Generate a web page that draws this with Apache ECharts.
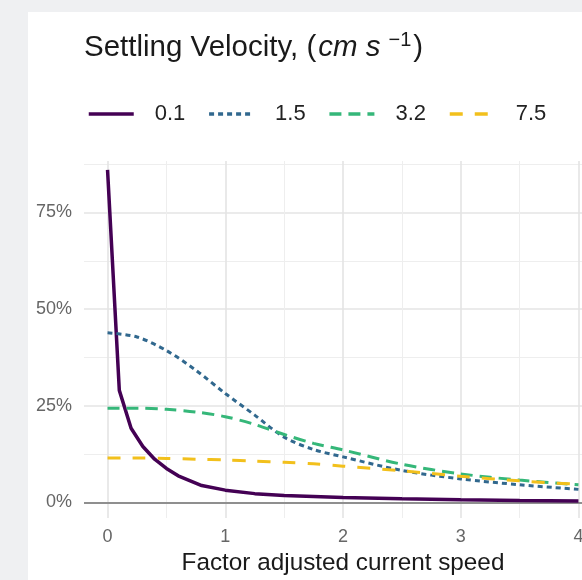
<!DOCTYPE html>
<html>
<head>
<meta charset="utf-8">
<script src="https://cdn.jsdelivr.net/npm/echarts@6/dist/echarts.min.js"></script>
<style>
  html, body { margin: 0; padding: 0; background: #eff0f2; }
  #panel { position: absolute; left: 28px; top: 12px; right: 0; bottom: 0; background: #fff; }
  #chart { position: absolute; left: 0; top: 0; width: 582px; height: 580px; }
</style>
</head>
<body>
<div id="panel"></div>
<div id="chart"></div>
<script>
// settling velocity classes (cm/s)
const classes = ['0.1', '1.5', '3.2', '7.5']

// x = factor adjusted current speed, y = share in %
const speedFine = [0, 0.1, 0.2, 0.3, 0.4, 0.5, 0.6, 0.8, 1.0, 1.25, 1.5, 2.0, 2.5, 3.0, 3.5, 4.0]
const share01 = [86, 29, 19.2, 14.5, 11.2, 8.8, 6.9, 4.4, 3.2, 2.3, 1.8, 1.3, 0.95, 0.7, 0.5, 0.4]

const speed = [0, 0.25, 0.5, 0.75, 1.0, 1.25, 1.5, 1.75, 2.0, 2.5, 3.0, 3.5, 4.0]
const share15 = [43.9, 42.8, 39.3, 34.2, 28.2, 22.6, 16.9, 13.7, 11.8, 8.3, 6.1, 4.6, 3.4]
const share32 = [24.4, 24.4, 24.1, 23.4, 22.2, 20.2, 17.6, 15.3, 13.6, 9.9, 7.4, 5.8, 4.6]
const share75 = [11.5, 11.5, 11.4, 11.2, 11.0, 10.7, 10.4, 10.0, 9.4, 8.2, 6.8, 5.6, 4.7]

const xTicks = [0, 1, 2, 3, 4]
const xMinor = [0.5, 1.5, 2.5, 3.5]
const yTicks = [0, 25, 50, 75]
const yMinor = [12.5, 37.5, 62.5, 87.5]

const font = '"Liberation Sans", Arial, sans-serif'
const colors = ['#440154', '#31688E', '#35B779', '#F2C01C']
const dashes = ['solid', [5, 4], [12, 7], [13, 12]]

const zip = (xs, ys) => xs.map((x, i) => [x, ys[i]])
const seriesData = [zip(speedFine, share01), zip(speed, share15), zip(speed, share32), zip(speed, share75)]

const chart = echarts.init(document.getElementById('chart'))

const majorGrid = { show: true, lineStyle: { color: '#e4e4e4', width: 1.6 } }
const minorGrid = { show: true, lineStyle: { color: '#eeeeee', width: 1 } }
const txt = { color: '#1a1a1a', fontFamily: font, fontWeight: 'normal' }

const series = classes.map((name, i) => ({
  name,
  type: 'line',
  xAxisIndex: 0,
  yAxisIndex: 0,
  data: seriesData[i],
  symbol: 'none',
  smooth: i === 0 ? false : 0.3,
  itemStyle: { color: colors[i] },
  lineStyle: { color: colors[i], width: i === 0 ? 3.5 : 3, type: dashes[i], cap: 'butt' },
  z: 3
}))

// zero reference line
series[1].markLine = {
  silent: true,
  symbol: 'none',
  label: { show: false },
  lineStyle: { color: '#8f8f8f', width: 2, type: 'solid' },
  data: [{ yAxis: 0 }],
  z: 1
}

chart.setOption({
  animation: false,
  title: {
    left: 79,
    top: 25,
    text: '{a|Settling Velocity, (}{i|cm s}{s|−1}{a|)}',
    textStyle: {
      fontWeight: 'normal',
      rich: {
        a: { ...txt, fontSize: 29.5, lineHeight: 36 },
        i: { ...txt, fontSize: 29.5, lineHeight: 36, fontStyle: 'italic', padding: [0, 0, 0, 2] },
        s: { ...txt, fontSize: 20, lineHeight: 20, verticalAlign: 'top', padding: [0, 2, 0, 8] }
      }
    }
  },
  legend: {
    left: 82,
    top: 98,
    itemWidth: 45,
    itemHeight: 14,
    itemGap: 22,
    data: classes,
    itemStyle: { opacity: 0 },
    lineStyle: { width: 3.5 },
    textStyle: { fontSize: 22, color: '#222', fontFamily: font, padding: [0, 0, 0, 16] }
  },
  grid: { left: 84, top: 161, width: 518, height: 357, outerBoundsMode: 'none' },
  xAxis: [
    {
      type: 'value', min: -0.2, max: 4.2,
      axisLine: { show: false },
      axisTick: { show: false, customValues: xTicks },
      axisLabel: { customValues: xTicks, margin: 10, fontSize: 18, color: '#666', fontFamily: font },
      splitLine: majorGrid,
      name: 'Factor adjusted current speed',
      nameLocation: 'middle',
      nameGap: 31,
      nameTextStyle: { fontSize: 24.3, color: '#1a1a1a', fontFamily: font }
    },
    {
      type: 'value', min: -0.2, max: 4.2, position: 'top',
      axisLine: { show: false },
      axisTick: { show: false, customValues: xMinor },
      axisLabel: { show: false },
      splitLine: minorGrid
    }
  ],
  yAxis: [
    {
      type: 'value', min: -4, max: 88.3,
      axisLine: { show: false },
      axisTick: { show: false, customValues: yTicks },
      axisLabel: { customValues: yTicks, formatter: '{value}%', margin: 12, fontSize: 18, color: '#666', fontFamily: font, padding: [6, 0, 0, 0] },
      splitLine: majorGrid
    },
    {
      type: 'value', min: -4, max: 88.3, position: 'right',
      axisLine: { show: false },
      axisTick: { show: false, customValues: yMinor },
      axisLabel: { show: false },
      splitLine: minorGrid
    }
  ],
  series
})
</script>
</body>
</html>
